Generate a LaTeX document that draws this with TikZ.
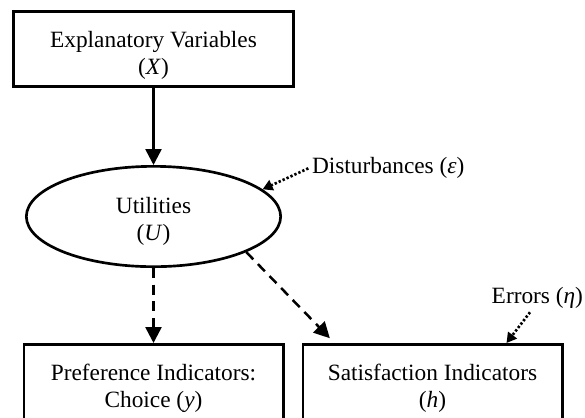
\documentclass[tikz,border=0pt]{standalone}
\usepackage{fontspec}
\setmainfont{Liberation Serif}
\usetikzlibrary{arrows.meta,positioning,shapes.geometric}
\tikzset{
  boite/.style={rectangle, draw=black, line width=1.6pt, align=center, inner sep=0pt,
                font=\fontsize{14}{16.5}\selectfont, minimum width=#1, minimum height=45.2pt,
                text height=31pt, text depth=0pt},
  latent/.style={ellipse, draw=black, line width=1.6pt, align=center, inner sep=0pt,
                 font=\fontsize{14}{16.5}\selectfont, minimum width=152.6pt, minimum height=60.2pt,
                 text height=29pt, text depth=0pt},
  lbl/.style={inner sep=2pt, font=\fontsize{14}{16.5}\selectfont},
  arr/.style={-{Triangle[length=9.5pt,width=9.5pt]}, line width=1.5pt, draw=black},
  darr/.style={arr, dash pattern=on 6pt off 4pt},
  noise/.style={-{Triangle[length=6pt,width=6.5pt]}, line width=1.6pt, dash pattern=on 1.4pt off 1.2pt},
}
\begin{document}
\begin{tikzpicture}
  \useasboundingbox (0,0) rectangle (351pt,-250.2pt);
  \clip (0,0) rectangle (351pt,-250.2pt);
  \node[boite=168.2pt] (expl) at (92.1pt,-29.4pt) {Explanatory Variables\\(\textit{X})};
  \node[latent, below=46.2pt of expl] (util) {Utilities\\(\textit{U})};
  \node[boite=155.6pt, below=45pt of util] (pref) {Preference Indicators:\\Choice (\textit{y})};
  \node[boite=155.6pt, right=10.2pt of pref] (sat) {Satisfaction Indicators\\(\textit{h})};
  \node[lbl, anchor=west] (dist) at (185pt,-101pt) {Disturbances (\textit{ε})};
  \node[lbl, anchor=east] (err) at (352pt,-178.8pt) {Errors (\textit{η})};
  % connectors
  \draw[arr] (expl) -- (util);
  \draw[darr] (util.south -| pref.north) -- (pref.north);
  \draw[darr, shorten >=4pt] (util.-21) -- ([xshift=19.8pt]sat.north west);
  \draw[noise] (dist.west) -- (util.14);
  \draw[noise] ([xshift=-34pt]err.south east) -- ([xshift=44.4pt]sat.north);
\end{tikzpicture}
\end{document}
